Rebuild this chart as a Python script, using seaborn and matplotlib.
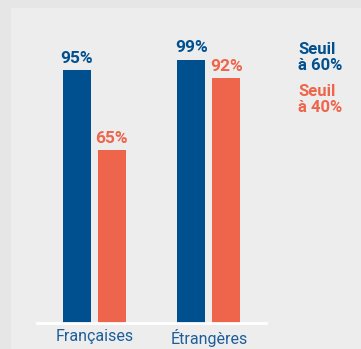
import pandas as pd
import matplotlib
matplotlib.use("Agg")
import matplotlib.pyplot as plt
import seaborn as sns
from matplotlib.patches import Rectangle

# data
categories = ["Françaises", "Étrangères"]
seuils = ["Seuil\nà 60%", "Seuil\nà 40%"]
taux_60 = [95, 99]
taux_40 = [65, 92]

BLUE = "#00508f"
RED = "#ee654b"
LABEL_BLUE = "#1d5d9b"

df = pd.DataFrame({
    "cat": categories * 2,
    "seuil": [seuils[0]] * 2 + [seuils[1]] * 2,
    "val": taux_60 + taux_40,
})

sns.set_theme(style="white")
plt.rcParams["font.family"] = ["Liberation Sans Narrow", "Roboto", "DejaVu Sans"]

fig = plt.figure(figsize=(3.61, 3.49), dpi=100)
fig.patch.set_facecolor("#e6e6e6")
# inner light panel
fig.patches.append(Rectangle((11 / 361, 0), 1, 1 - 8 / 349, transform=fig.transFigure,
                             facecolor="#ededed", edgecolor="none", zorder=-5))

ax = fig.add_axes([37 / 361, 26 / 349, 229 / 361, 266 / 349])
ax.set_zorder(2)
ax.set_facecolor("none")

sns.barplot(data=df, x="cat", y="val", hue="seuil", palette=[BLUE, RED],
            width=0.61, gap=0.2, ax=ax, legend=False, saturation=1,
            linewidth=0, edgecolor="none")

ax.set_xlim(-0.5, 1.5)
ax.set_ylim(0, 100)
for s in ["top", "right", "left"]:
    ax.spines[s].set_visible(False)
ax.spines["bottom"].set_color("white")
ax.spines["bottom"].set_linewidth(2)
ax.set_yticks([])
ax.set_xlabel("")
ax.set_ylabel("")
ax.tick_params(axis="x", length=0, pad=4)
for t in ax.get_xticklabels():
    t.set_color(LABEL_BLUE)
    t.set_fontsize(11.5)

# value labels
for cont, col in zip(ax.containers, [BLUE, RED]):
    labels = [f"{int(v)}%" for v in cont.datavalues]
    ax.bar_label(cont, labels=labels, padding=3, color=col,
                 fontsize=12.5, fontweight="bold")

# legend as colored text
fig.text(298 / 361, 1 - 42 / 349, seuils[0], color=BLUE, fontsize=12,
         fontweight="bold", va="top", ha="left", linespacing=1.05, zorder=3)
fig.text(298 / 361, 1 - 84 / 349, seuils[1], color=RED, fontsize=12,
         fontweight="bold", va="top", ha="left", linespacing=1.05, zorder=3)

fig.savefig("out.png", dpi=100, facecolor=fig.get_facecolor())
plt.close(fig)
